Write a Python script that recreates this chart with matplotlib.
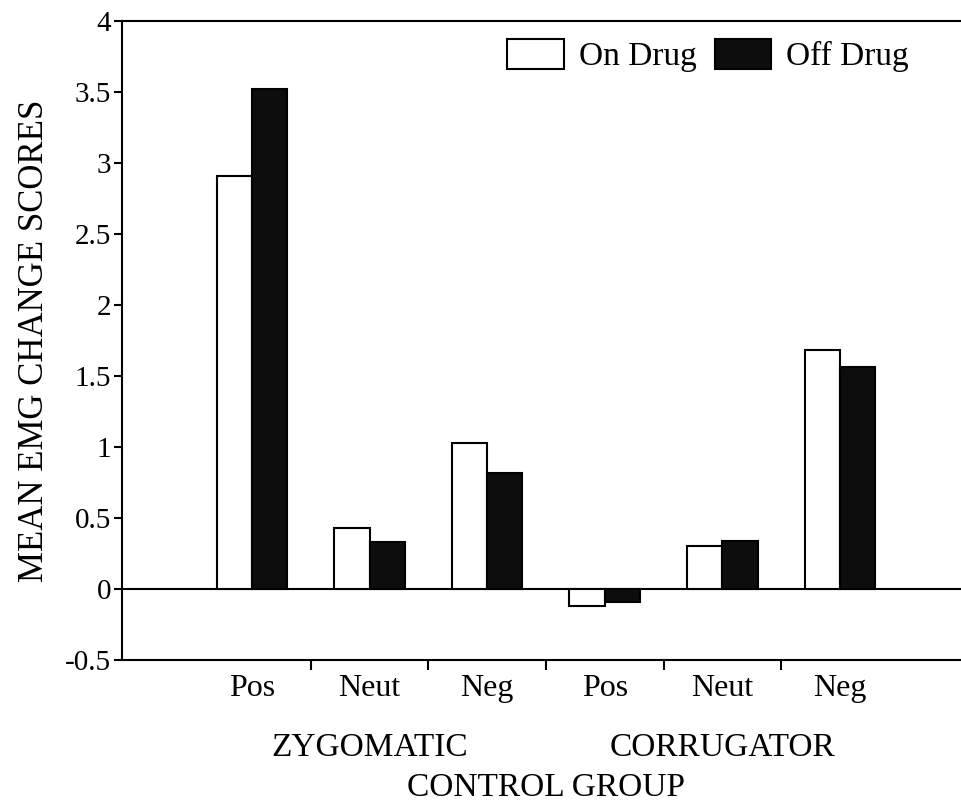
import matplotlib
matplotlib.use('Agg')
from matplotlib import pyplot as plt
from matplotlib.transforms import blended_transform_factory
import numpy as np

plt.rcParams['font.family'] = ['Liberation Serif', 'DejaVu Serif']

categories = ['Pos', 'Neut', 'Neg', 'Pos', 'Neut', 'Neg']
groups = ['ZYGOMATIC', 'CORRUGATOR']
on_drug = [2.91, 0.43, 1.03, -0.12, 0.30, 1.68]
off_drug = [3.52, 0.33, 0.82, -0.09, 0.34, 1.56]
yticks = [-0.5, 0, 0.5, 1, 1.5, 2, 2.5, 3, 3.5, 4]
ytick_labels = ['-0.5', '0', '0.5', '1', '1.5', '2', '2.5', '3', '3.5', '4']

fig = plt.figure(figsize=(9.61, 8.05), dpi=100)
ax = fig.add_axes([122/961, 145/805, 1 - 122/961, 639/805])

x = np.arange(len(categories))
w = 0.3
ax.bar(x - w/2, on_drug, w, color='white', edgecolor='black', linewidth=1.5, label='On Drug', zorder=3)
ax.bar(x + w/2, off_drug, w, color='#0d0d0d', edgecolor='black', linewidth=1.5, label='Off Drug', zorder=3)
ax.axhline(0, color='black', linewidth=1.5, zorder=2)

ax.set_xlim(-1.106, 6.03)
ax.set_ylim(-0.5, 4)
ax.set_yticks(yticks)
ax.set_yticklabels(ytick_labels, fontsize=21)
ax.set_xticks(x)
ax.set_xticklabels(categories, fontsize=23)
ax.set_xticks(x[:-1] + 0.5, minor=True)
ax.tick_params(axis='x', which='major', length=0, pad=10)
ax.tick_params(axis='x', which='minor', length=7, width=1.5, direction='out')
ax.tick_params(axis='y', length=6, width=1.5, direction='out', pad=2)

for s in ['left', 'top', 'bottom']:
    ax.spines[s].set_linewidth(1.5)
ax.spines['right'].set_visible(False)

ax.set_ylabel('MEAN EMG CHANGE SCORES', fontsize=25, labelpad=10)

tr = blended_transform_factory(ax.transData, ax.transAxes)
ax.text(1, -0.137, groups[0], transform=tr, ha='center', va='center', fontsize=24)
ax.text(4, -0.137, groups[1], transform=tr, ha='center', va='center', fontsize=24)
ax.text(2.5, -0.2, 'CONTROL GROUP', transform=tr, ha='center', va='center', fontsize=24)

ax.legend(loc='upper left', bbox_to_anchor=(507/961, 1 - 39/805), bbox_transform=fig.transFigure,
          ncol=2, frameon=False, fontsize=24, handlelength=1.7, handleheight=1.0,
          handletextpad=0.45, columnspacing=0.55, borderpad=0, borderaxespad=0)

fig.savefig('out.png', dpi=100)
